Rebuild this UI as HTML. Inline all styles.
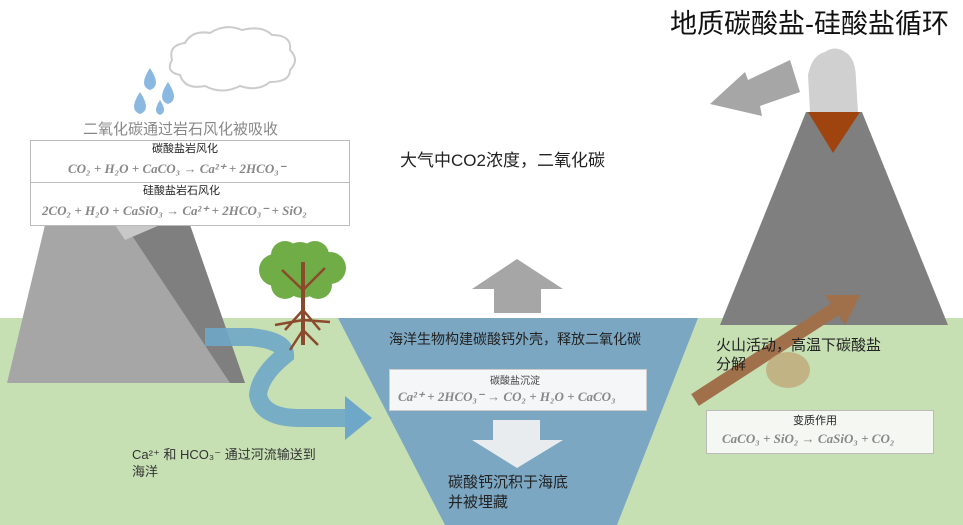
<!DOCTYPE html>
<html><head><meta charset="utf-8"><style>
body{margin:0;width:963px;height:525px;overflow:hidden;background:#fff;position:relative;font-family:"Liberation Sans","Noto Sans CJK SC",sans-serif}
.t{position:absolute;white-space:nowrap;color:#222}
.eq{font-family:"Liberation Serif","Noto Serif CJK SC",serif;font-style:italic;font-weight:bold;color:#888;font-size:13px}
</style></head><body>
<svg width="963" height="525" style="position:absolute;left:0;top:0">
<rect x="0" y="318" width="963" height="207" fill="#c6e0b4"/>
<!-- left mountain -->
<polygon points="45,225 190,225 245,383 7,383" fill="#a6a6a6"/>
<polygon points="125,225 190,225 245,383 230,383" fill="#7f7f7f"/>
<polygon points="115,225 160,225 125,240" fill="#c8c8c8"/>
<!-- river -->
<path d="M205,337 L250,337 Q285,340 285,355 Q260,375 258,395 Q262,418 300,418 L345,418" stroke="#6fa7c8" stroke-width="18" fill="none" opacity="0.9"/>
<polygon points="345,396 372,418 345,440" fill="#6fa7c8"/>
<!-- tree -->
<g fill="#70ad47">
<circle cx="275" cy="270" r="16"/><circle cx="330" cy="268" r="16"/><circle cx="300" cy="260" r="18"/>
<circle cx="285" cy="285" r="14"/><circle cx="318" cy="285" r="14"/><circle cx="302" cy="280" r="18"/>
<circle cx="315" cy="255" r="14"/><circle cx="285" cy="255" r="14"/>
</g>
<path d="M303,270 L303,345 M303,290 L282,270 M303,290 L325,268 M303,310 L285,330 M303,310 L320,330 M303,330 L290,350 M303,330 L318,345 M303,320 L275,325 M303,320 L330,322" stroke="#8b4a2b" stroke-width="2.5" fill="none"/>
<line x1="303" y1="262" x2="303" y2="345" stroke="#8b4a2b" stroke-width="4"/>
<!-- ocean -->
<polygon points="338,318 698,318 617,525 445,525" fill="#7ca7c2"/>
<!-- up arrow -->
<polygon points="517,259 563,289 541,289 541,313 494,313 494,289 472,289" fill="#a6a6a6"/>
<!-- down arrow -->
<polygon points="493,420 540,420 540,440 563,440 517,468 472,440 493,440" fill="#e8ecef"/>
<!-- volcano -->
<polygon points="806,112 862,112 948,325 720,325" fill="#7f7f7f"/>
<polygon points="808,112 860,112 833,153" fill="#a0440f"/>
<path d="M810,112 L808,75 Q812,55 825,52 Q835,45 845,52 Q856,58 856,80 L858,112 Z" fill="#d0d0d0"/>
<!-- gray arrow -->
<polygon points="790,60 800,92 760,106 762,116 710,104 745,72 748,80" fill="#a6a6a6"/>
<!-- brown arrow -->
<path d="M695,400 L840,306" stroke="#a0704a" stroke-width="14"/>
<polygon points="825,295 860,295 845,325" fill="#a0704a"/>
<ellipse cx="788" cy="370" rx="22" ry="18" fill="#c0a070" opacity="0.7"/>
<!-- cloud -->
<path d="M180,75 Q165,72 172,60 Q168,45 185,43 Q192,30 210,33 Q225,23 242,30 Q262,25 272,35 Q292,35 290,50 Q300,60 290,70 Q290,82 270,82 Q258,92 240,86 Q222,95 205,86 Q185,90 180,75 Z" fill="#fff" stroke="#ccc" stroke-width="2"/>
<!-- drops -->
<path d="M150,68 q-12,18 0,22 q12,-4 0,-22z M168,82 q-12,18 0,22 q12,-4 0,-22z M140,92 q-12,18 0,22 q12,-4 0,-22z M160,100 q-8,12 0,15 q8,-3 0,-15z" fill="#8ab8e0"/>
</svg>
<div class="t" style="left:670px;top:2px;font-size:27px;color:#111">地质碳酸盐-硅酸盐循环</div>
<div class="t" style="left:83px;top:118px;font-size:15px;color:#888">二氧化碳通过岩石风化被吸收</div>
<div style="position:absolute;left:30px;top:140px;width:318px;height:42px;background:#fff;border:1px solid #bbb"></div>
<div style="position:absolute;left:30px;top:182px;width:318px;height:42px;background:#fff;border:1px solid #bbb"></div>
<div class="t" style="left:152px;top:140px;font-size:11px">碳酸盐岩风化</div>
<div class="t eq" style="left:68px;top:161px">CO₂ + H₂O + CaCO₃ → Ca²⁺ + 2HCO₃⁻</div>
<div class="t" style="left:143px;top:182px;font-size:11px">硅酸盐岩石风化</div>
<div class="t eq" style="left:42px;top:203px">2CO₂ + H₂O + CaSiO₃ → Ca²⁺ + 2HCO₃⁻ + SiO₂</div>
<div class="t" style="left:400px;top:146px;font-size:17px">大气中CO2浓度，二氧化碳</div>
<div class="t" style="left:389px;top:329px;font-size:14px">海洋生物构建碳酸钙外壳，释放二氧化碳</div>
<div style="position:absolute;left:389px;top:369px;width:256px;height:40px;background:#f4f6f7;border:1px solid #ccc"></div>
<div class="t" style="left:490px;top:372px;font-size:10px;color:#444">碳酸盐沉淀</div>
<div class="t eq" style="left:398px;top:389px">Ca²⁺ + 2HCO₃⁻ → CO₂ + H₂O + CaCO₃</div>
<div class="t" style="left:448px;top:473px;font-size:15px;line-height:20px">碳酸钙沉积于海底<br>并被埋藏</div>
<div class="t" style="left:716px;top:336px;font-size:15px;line-height:19px">火山活动，高温下碳酸盐<br>分解</div>
<div style="position:absolute;left:706px;top:410px;width:226px;height:42px;background:#f5f8f2;border:1px solid #bbb"></div>
<div class="t" style="left:793px;top:412px;font-size:11px">变质作用</div>
<div class="t eq" style="left:722px;top:431px">CaCO₃ + SiO₂ → CaSiO₃ + CO₂</div>
<div class="t" style="left:132px;top:446px;font-size:13px;line-height:17px;color:#333">Ca²⁺ 和 HCO₃⁻ 通过河流输送到<br>海洋</div>
</body></html>
